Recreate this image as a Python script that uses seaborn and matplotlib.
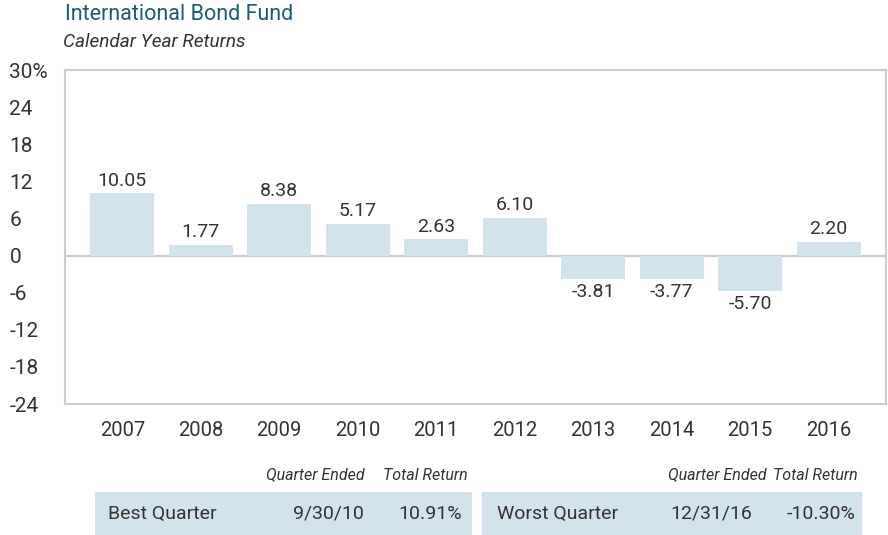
import matplotlib
matplotlib.use("Agg")
import matplotlib.pyplot as plt
from matplotlib.patches import Rectangle
import seaborn as sns
import pandas as pd

years = ["2007", "2008", "2009", "2010", "2011", "2012", "2013", "2014", "2015", "2016"]
returns = [10.05, 1.77, 8.38, 5.17, 2.63, 6.10, -3.81, -3.77, -5.70, 2.20]
y_ticks = [30, 24, 18, 12, 6, 0, -6, -12, -18, -24]
y_tick_labels = ["30%", "24", "18", "12", "6", "0", "-6", "-12", "-18", "-24"]

best_label, best_date, best_return = "Best Quarter", "9/30/10", "10.91%"
worst_label, worst_date, worst_return = "Worst Quarter", "12/31/16", "-10.30%"

sns.set_theme(style="white")
plt.rcParams["font.family"] = ["Liberation Sans Narrow", "Roboto", "DejaVu Sans"]

TEXT = "#333333"
BAR = "#d3e3ec"
FRAME = "#cccccc"
TITLE = "#1e5b78"

df = pd.DataFrame({"year": years, "ret": returns})

fig = plt.figure(figsize=(8.88, 5.35), dpi=100)
W, H = 888, 535
ax = fig.add_axes([65 / W, 1 - 404 / H, (886 - 65) / W, (404 - 70) / H])

sns.barplot(data=df, x="year", y="ret", color=BAR, width=0.82, saturation=1,
            ax=ax, edgecolor="none")
ax.set_xlim(-0.73, 9.73)
ax.set_ylim(-24, 30)
ax.axhline(0, color=FRAME, lw=1.5, zorder=0.5)

for i, v in enumerate(returns):
    if v >= 0:
        ax.text(i, v + 0.6, f"{v:.2f}", ha="center", va="bottom", fontsize=14, color=TEXT)
    else:
        ax.text(i, v - 0.6, f"{v:.2f}", ha="center", va="top", fontsize=14, color=TEXT)

ax.set_yticks(y_ticks)
ax.set_yticklabels(y_tick_labels, fontsize=15, color=TEXT)
for lab in ax.get_yticklabels():
    lab.set_horizontalalignment("left")
ax.tick_params(axis="y", length=0, pad=40)
ax.tick_params(axis="x", length=0, pad=12, labelsize=14.5, labelcolor=TEXT)
ax.set_xlabel("")
ax.set_ylabel("")
for s in ax.spines.values():
    s.set_color(FRAME)
    s.set_linewidth(1.5)

fig.text(65 / W, 1 - 15 / H, "International Bond Fund", fontsize=15.5, color=TITLE,
         ha="left", va="center")
fig.text(63 / W, 1 - 42 / H, "Calendar Year Returns", fontsize=13.7, color=TEXT,
         style="italic", ha="left", va="center")

# quarter summary boxes
for x0, x1 in [(95, 472), (482, 862)]:
    fig.patches.append(Rectangle((x0 / W, 0), (x1 - x0) / W, (535 - 492) / H,
                                 transform=fig.transFigure, facecolor=BAR,
                                 edgecolor="none"))

hy = 1 - 475 / H
by = 1 - 514 / H
for xr, txt in [(365, "Quarter Ended"), (468, "Total Return"),
                (767, "Quarter Ended"), (858, "Total Return")]:
    fig.text(xr / W, hy, txt, fontsize=11.5, style="italic", color=TEXT,
             ha="right", va="center")

fig.text(108 / W, by, best_label, fontsize=14, color=TEXT, ha="left", va="center")
fig.text(364 / W, by, best_date, fontsize=14, color=TEXT, ha="right", va="center")
fig.text(462 / W, by, best_return, fontsize=14, color=TEXT, ha="right", va="center")
fig.text(497 / W, by, worst_label, fontsize=14, color=TEXT, ha="left", va="center")
fig.text(752 / W, by, worst_date, fontsize=14, color=TEXT, ha="right", va="center")
fig.text(855 / W, by, worst_return, fontsize=14, color=TEXT, ha="right", va="center")

fig.savefig("out.png", dpi=100)
